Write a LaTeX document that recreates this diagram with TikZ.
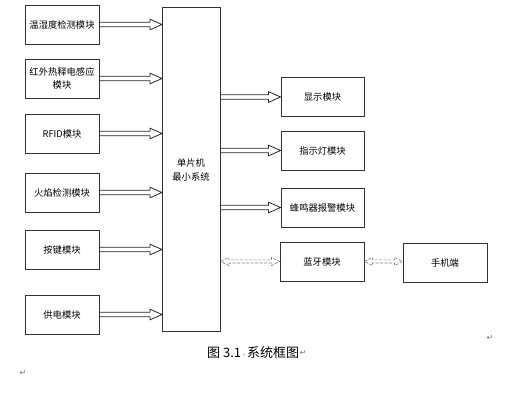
\documentclass[tikz,border=0pt]{standalone}
\usepackage{fontspec}
\setmainfont{Liberation Serif}
\newfontfamily\cjk{Noto Sans CJK SC}
\newfontfamily\symf{DejaVu Sans}
\usetikzlibrary{calc}
\tikzset{
  modbox/.style={draw=black!80, line width=0.9pt, fill=white, minimum height=39pt, inner sep=0pt, align=center, font=\cjk\fontsize{9.3}{13.5}\selectfont},
  arr/.style={draw=black!85, line width=0.8pt, line join=miter},
  darr/.style={draw=black!50, line width=0.7pt, dash pattern=on 3pt off 1.5pt},
  retmark/.style={text=black!55, font=\symf\fontsize{8}{9}\selectfont, inner sep=0pt}
}
% hollow block arrow from point #1 to point #2 (horizontal, left to right)
\newcommand\blkarrow[2]{%
  \draw[arr] ($(#1)+(0,-2.2)$) -- ($(#2)+(-12,-2.2)$) -- ($(#2)+(-12,-5.3)$) -- (#2)
    -- ($(#2)+(-12,5.3)$) -- ($(#2)+(-12,2.2)$) -- ($(#1)+(0,2.2)$);}
% dashed double-headed hollow arrow
\newcommand\dblarrow[2]{%
  \draw[darr] (#1) -- ($(#1)+(8,-4)$) -- ($(#1)+(8,-1.6)$) -- ($(#2)+(-8,-1.6)$) -- ($(#2)+(-8,-4)$) -- (#2)
    -- ($(#2)+(-8,4)$) -- ($(#2)+(-8,1.6)$) -- ($(#1)+(8,1.6)$) -- ($(#1)+(8,4)$) -- cycle;}
\begin{document}
\begin{tikzpicture}[x=1pt,y=-1pt]
\useasboundingbox (0,0) rectangle (527,403);
% left modules
\node[modbox, minimum width=74pt] (t) at (62,24.5) {温湿度检测模块};
\node[modbox, minimum width=74pt] (h) at (62,78.5) {红外热释电感应\\模块};
\node[modbox, minimum width=74pt] (r) at (62,133.5) {RFID模块};
\node[modbox, minimum width=74pt] (f) at (62,192.5) {火焰检测模块};
\node[modbox, minimum width=74pt] (k) at (62,249.5) {按键模块};
\node[modbox, minimum width=74pt] (p) at (62,314.5) {供电模块};
% MCU
\node[modbox, minimum width=58pt, minimum height=324pt, anchor=north west, text width=58pt] (m) at (162,7) {};
\node[font=\cjk\fontsize{9.3}{13.5}\selectfont, align=center] (mt) at (191,170) {单片机\\最小系统};
% right modules
\node[modbox, minimum width=83pt] (d) at (322.5,97) {显示模块};
\node[modbox, minimum width=83pt] (l) at (322.5,150.5) {指示灯模块};
\node[modbox, minimum width=83pt] (b) at (322.5,207.5) {蜂鸣器报警模块};
\node[modbox, minimum width=84pt] (bt) at (322,261.5) {蓝牙模块};
\node[modbox, minimum width=84pt] (ph) at (445,262.5) {手机端};
% arrows
\blkarrow{t.east}{t.east -| m.west}
\blkarrow{h.east}{h.east -| m.west}
\blkarrow{r.east}{r.east -| m.west}
\blkarrow{f.east}{f.east -| m.west}
\blkarrow{k.east}{k.east -| m.west}
\blkarrow{p.east}{p.east -| m.west}
\blkarrow{m.east |- d.west}{d.west}
\blkarrow{m.east |- l.west}{l.west}
\blkarrow{m.east |- b.west}{b.west}
\dblarrow{m.east |- bt.west}{bt.west}
\dblarrow{bt.east}{ph.west |- bt.east}
% caption and marks
\node[anchor=west, inner sep=0pt, font=\cjk\fontsize{13}{15}\selectfont] (cap) at (207,353) {图 3.1{\color{black!55}\fontsize{6}{7}\selectfont·}系统框图};
\node[retmark, anchor=west] (cm) at (cap.east) {↵};
\node[retmark] (m1) at (490,338) {↵};
\node[retmark] (m2) at (23,373) {↵};
\end{tikzpicture}
\end{document}
